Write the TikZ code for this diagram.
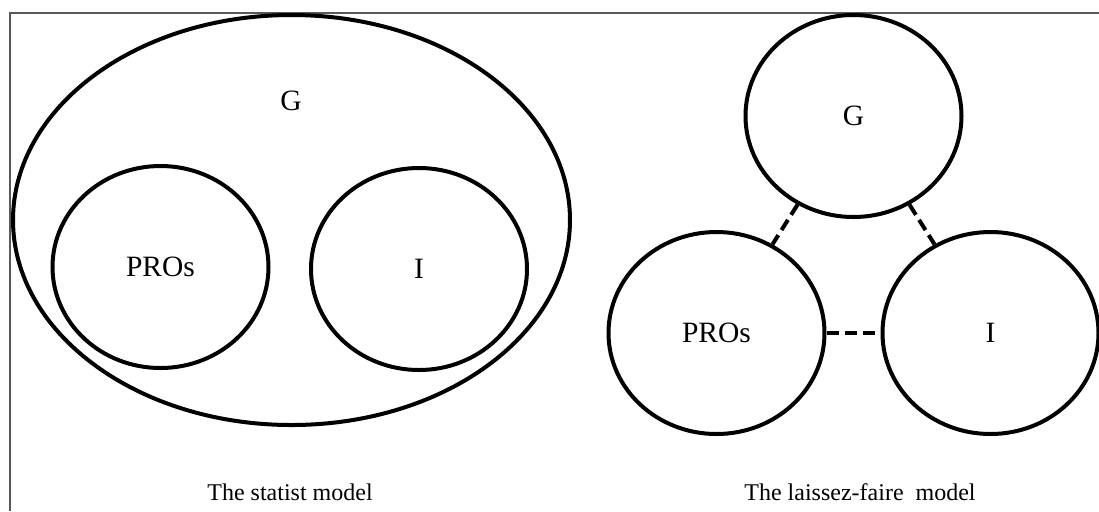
\documentclass[tikz,border=0pt]{standalone}
\usepackage{fontspec}
\setmainfont{Liberation Serif}
\usetikzlibrary{shapes.geometric}

\begin{document}
\begin{tikzpicture}[x=0.5pt, y=-0.5pt, line width=2pt,
  circ/.style={ellipse, draw, inner sep=0pt, minimum width=108pt, minimum height=101pt,
    font=\fontsize{14.75}{17}\selectfont},
  link/.style={dash pattern=on 6pt off 3pt},
  caption/.style={anchor=base, font=\fontsize{12}{14}\selectfont}]
  \useasboundingbox (0,0) rectangle (1099,511);
  % marco (solo arriba e izquierda)
  \draw[line width=0.65pt, black!65] (1099,13) -- (10,13) -- (10,511);
  % modelo estatista: G contiene PROs e I
  \node[circ, minimum width=278.5pt, minimum height=205pt] (govall) at (291.5,220) {};
  \node[font=\fontsize{14.75}{17}\selectfont] (govlab) at (291,101) {G};
  \node[circ] (prosA) at (160.5,267) {PROs};
  \node[circ] (indA) at (419,269) {I};
  \node[caption] (capA) at (290,500) {The statist model};
  % modelo laissez-faire: tres esferas separadas
  \node[circ] (govB) at (853.5,116) {G};
  \node[circ] (prosB) at (716.5,333) {PROs};
  \node[circ] (indB) at (990.5,333) {I};
  \draw[link] (govB) -- (prosB);
  \draw[link] (govB) -- (indB);
  \draw[link] (prosB) -- (indB);
  \node[caption] (capB) at (860,500) {The laissez-faire\ \ model};
\end{tikzpicture}
\end{document}
